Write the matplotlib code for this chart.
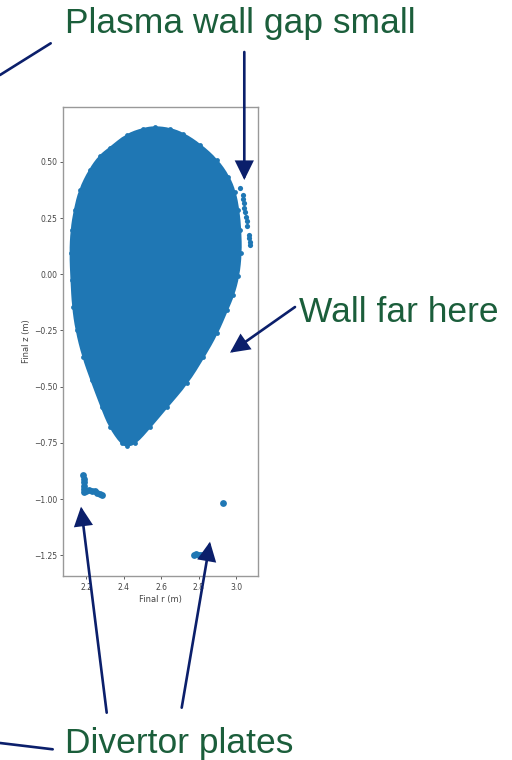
import matplotlib
matplotlib.use("Agg")
import matplotlib.pyplot as plt
from matplotlib.patches import PathPatch, FancyArrowPatch
from matplotlib.path import Path

W, H = 512, 760

# Outline of the confined region (final r, final z), clockwise from the top
core_r = [2.568, 2.648, 2.719, 2.808, 2.897, 2.959, 2.992, 3.011, 3.021, 3.024,
          3.011, 2.984, 2.950, 2.897, 2.826, 2.737, 2.630, 2.541, 2.461, 2.417,
          2.390, 2.328, 2.284, 2.230, 2.186, 2.150, 2.132, 2.124, 2.118, 2.124,
          2.141, 2.168, 2.221, 2.275, 2.328, 2.417, 2.506]
core_z = [0.654, 0.646, 0.624, 0.575, 0.508, 0.434, 0.366, 0.286, 0.197, 0.095,
          -0.008, -0.092, -0.159, -0.262, -0.367, -0.485, -0.589, -0.678, -0.752, -0.762,
          -0.752, -0.678, -0.589, -0.470, -0.367, -0.248, -0.144, -0.025, 0.093, 0.197,
          0.286, 0.375, 0.464, 0.526, 0.560, 0.620, 0.646]

# Particles ending on the outboard wall
wall_r = [3.021, 3.035, 3.038, 3.042, 3.045, 3.049, 3.052, 3.056, 3.060,
          3.067, 3.070, 3.072, 3.074]
wall_z = [0.383, 0.353, 0.335, 0.315, 0.295, 0.275, 0.255, 0.235, 0.215,
          0.175, 0.160, 0.145, 0.128]

# Particles ending on the inner divertor plate
div_in_r = [2.186, 2.187, 2.188, 2.189, 2.190, 2.191, 2.200, 2.215, 2.230,
            2.245, 2.260, 2.275, 2.285]
div_in_z = [-0.893, -0.910, -0.925, -0.940, -0.955, -0.970, -0.965, -0.960,
            -0.962, -0.966, -0.972, -0.976, -0.980]

# Particles ending on the outer divertor plate
div_out_r = [2.775, 2.785, 2.800, 2.815, 2.830, 2.845, 2.932]
div_out_z = [-1.250, -1.245, -1.250, -1.248, -1.250, -1.252, -1.019]

x_ticks = [2.2, 2.4, 2.6, 2.8, 3.0]
y_ticks = [-1.25, -1.00, -0.75, -0.50, -0.25, 0.00, 0.25, 0.50]

blue = "#1f77b4"
green = "#1b5e3b"
navy = "#0b1f6b"

fig = plt.figure(figsize=(W / 100, H / 100), dpi=100)
fig.patch.set_facecolor("white")


def fx(x):
    return x / W


def fy(y):
    return 1 - y / H


ax = fig.add_axes([fx(63), fy(576), (258 - 63) / W, (576 - 107) / H])

# Smooth closed outline: outline points act as quadratic control points
pts = list(zip(core_r, core_z))
n = len(pts)
mids = [((pts[i][0] + pts[(i + 1) % n][0]) / 2, (pts[i][1] + pts[(i + 1) % n][1]) / 2)
        for i in range(n)]
verts = [mids[-1]]
codes = [Path.MOVETO]
for i in range(n):
    verts += [pts[i], mids[i]]
    codes += [Path.CURVE3, Path.CURVE3]
verts.append(mids[-1])
codes.append(Path.CLOSEPOLY)
ax.add_patch(PathPatch(Path(verts, codes), facecolor=blue, edgecolor=blue,
                       linewidth=2.0))
ax.scatter(core_r, core_z, s=12, color=blue, linewidths=0)
ax.scatter(wall_r, wall_z, s=14, color=blue, linewidths=0)
ax.scatter(div_in_r, div_in_z, s=24, color=blue, linewidths=0)
ax.scatter(div_out_r, div_out_z, s=24, color=blue, linewidths=0)

ax.set_xlim(2.077, 3.117)
ax.set_ylim(-1.342, 0.744)
ax.set_xticks(x_ticks)
ax.set_xticklabels([f"{v:.1f}" for v in x_ticks])
ax.set_yticks(y_ticks)
ax.set_yticklabels([f"{v:.2f}".replace("-", "\u2212") for v in y_ticks])
ax.tick_params(labelsize=5.5, colors="#444444", length=2, width=0.6, pad=2)
ax.tick_params(axis="x", pad=3)
for s in ax.spines.values():
    s.set_color("#999999")
    s.set_linewidth(1.0)
ax.set_xlabel("Final r (m)", fontsize=6, color="#444444", labelpad=2)
ax.set_ylabel("Final z (m)", fontsize=6, color="#444444", labelpad=2)

# Callout text
fig.text(fx(65), fy(33), "Plasma wall gap small", color=green,
         fontsize=25.5, family="Liberation Sans", va="baseline", ha="left")
fig.text(fx(299), fy(321.7), "Wall far here", color=green,
         fontsize=25.5, family="Liberation Sans", va="baseline", ha="left")
fig.text(fx(65), fy(753), "Divertor plates", color=green,
         fontsize=25.5, family="Liberation Sans", va="baseline", ha="left")


def arrow(p0, p1, head=True):
    style = "-|>,head_length=0.55,head_width=0.27" if head else "-"
    a = FancyArrowPatch((fx(p0[0]), fy(p0[1])), (fx(p1[0]), fy(p1[1])),
                        transform=fig.transFigure, arrowstyle=style,
                        mutation_scale=20, color=navy, linewidth=1.9,
                        shrinkA=0, shrinkB=0, joinstyle="miter")
    fig.add_artist(a)


arrow((0, 75), (50.7, 43.3), head=False)
arrow((244.3, 52), (244.3, 180))
arrow((295, 307), (230, 352.7))
arrow((106.7, 712.7), (81, 506.7))
arrow((181.7, 707.7), (210, 541.7))
arrow((0, 743), (52.7, 749.3), head=False)

fig.savefig("out.png", dpi=100, facecolor="white")
